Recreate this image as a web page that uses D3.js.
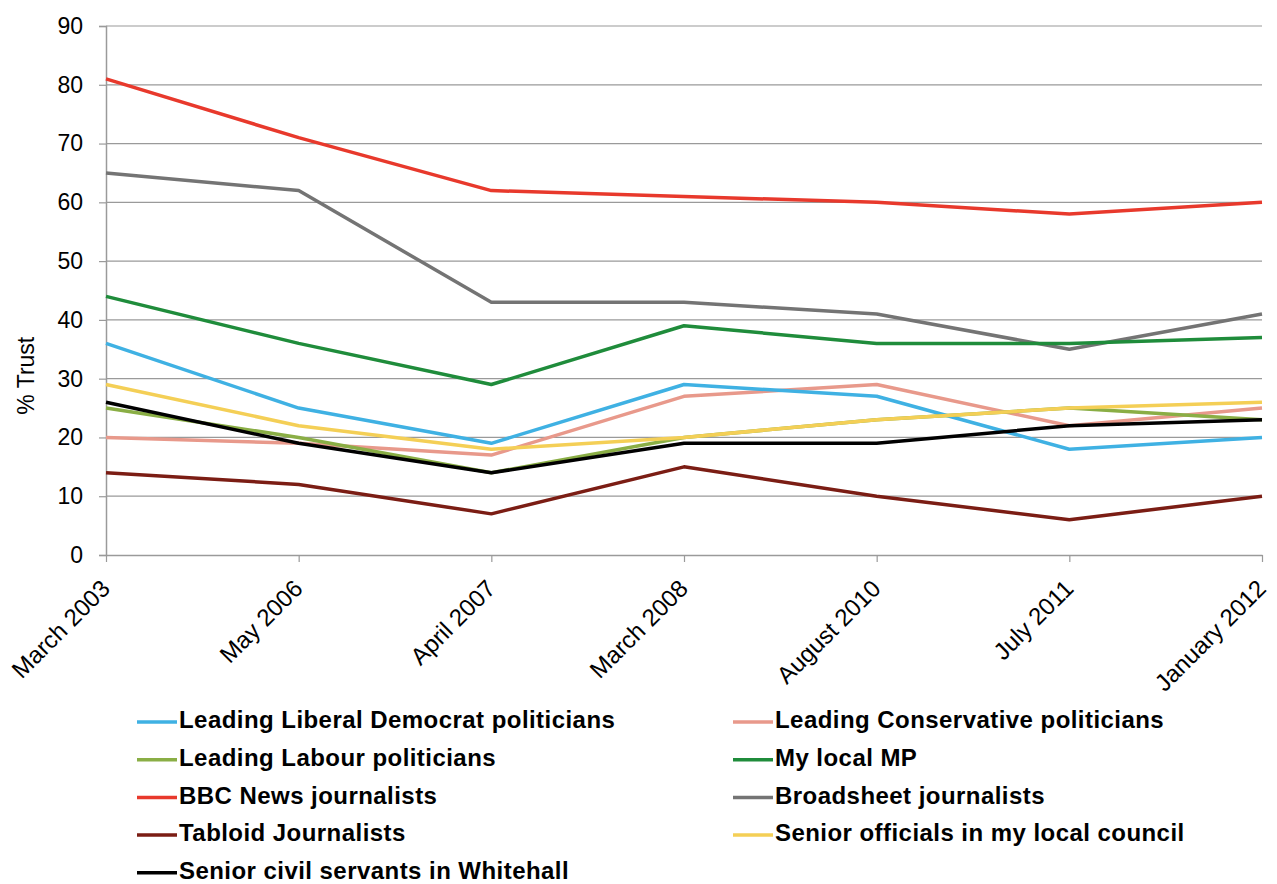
<!DOCTYPE html>
<html>
<head>
<meta charset="utf-8">
<script src="https://cdn.jsdelivr.net/npm/d3@7"></script>
<style>
  body { margin: 0; background: #fff; }
  text { font-family: "Liberation Sans", Arial, sans-serif; fill: #000; }
</style>
</head>
<body>
<div id="chart"></div>
<script>
const dates = ["March 2003", "May 2006", "April 2007", "March 2008", "August 2010", "July 2011", "January 2012"];
const yTicks = [0, 10, 20, 30, 40, 50, 60, 70, 80, 90];

const libDem = [36, 25, 19, 29, 27, 18, 20];
const conservative = [20, 19, 17, 27, 29, 22, 25];
const labour = [25, 20, 14, 20, 23, 25, 23];
const localMP = [44, 36, 29, 39, 36, 36, 37];
const bbc = [81, 71, 62, 61, 60, 58, 60];
const broadsheet = [65, 62, 43, 43, 41, 35, 41];
const tabloid = [14, 12, 7, 15, 10, 6, 10];
const localCouncil = [29, 22, 18, 20, 23, 25, 26];
const civilServants = [26, 19, 14, 19, 19, 22, 23];

const series = [
  { name: "Leading Liberal Democrat politicians", values: libDem, color: "#3fb1e3" },
  { name: "Leading Conservative politicians", values: conservative, color: "#e8998b" },
  { name: "Leading Labour politicians", values: labour, color: "#8aae45" },
  { name: "My local MP", values: localMP, color: "#1f8c3b" },
  { name: "BBC News journalists", values: bbc, color: "#e8392c" },
  { name: "Broadsheet journalists", values: broadsheet, color: "#747474" },
  { name: "Tabloid Journalists", values: tabloid, color: "#7b1d14" },
  { name: "Senior officials in my local council", values: localCouncil, color: "#f4cf56" },
  { name: "Senior civil servants in Whitehall", values: civilServants, color: "#000000" }
];

// draw order: back to front roughly as in the original
const drawOrder = [6, 5, 4, 3, 1, 0, 2, 7, 8];

let width = 1277, height = 884,
    margin = ({ top: 26, right: 15, bottom: 329, left: 106 });

const svg = d3.select("#chart")
  .append("svg")
  .attr("width", width)
  .attr("height", height);

let x = d3.scalePoint()
  .domain(dates)
  .range([margin.left, width - margin.right]);

let y = d3.scaleLinear()
  .domain([0, 90])
  .range([height - margin.bottom, margin.top]);

// gridlines
svg.append("g")
  .selectAll("line")
  .data(yTicks.filter(d => d > 0))
  .join("line")
  .attr("x1", margin.left)
  .attr("x2", width - margin.right)
  .attr("y1", d => y(d))
  .attr("y2", d => y(d))
  .attr("stroke", "#9a9a9a")
  .attr("stroke-width", 1.2);

// y axis
let yAxis = svg.append("g")
  .attr("transform", `translate(${margin.left},0)`)
  .call(d3.axisLeft(y).tickValues(yTicks).tickSize(7).tickPadding(16));
yAxis.select(".domain").attr("stroke", "#9a9a9a").attr("stroke-width", 1.5);
yAxis.selectAll(".tick line").attr("stroke", "#9a9a9a").attr("stroke-width", 1.2);
yAxis.selectAll(".tick text")
  .attr("font-size", 23)
  .attr("font-family", "Liberation Sans, Arial, sans-serif")
  .attr("fill", "#000");

// x axis
let xAxis = svg.append("g")
  .attr("transform", `translate(0,${height - margin.bottom})`)
  .call(d3.axisBottom(x).tickSize(7).tickSizeOuter(0));
xAxis.select(".domain").attr("stroke", "#9a9a9a").attr("stroke-width", 1.5);
xAxis.selectAll(".tick line").attr("stroke", "#9a9a9a").attr("stroke-width", 1.2);
xAxis.selectAll(".tick text")
  .attr("font-size", 24)
  .attr("font-family", "Liberation Sans, Arial, sans-serif")
  .attr("fill", "#000")
  .attr("text-anchor", "end")
  .attr("dy", null)
  .attr("y", 0)
  .attr("x", 0)
  .attr("transform", "translate(5,35) rotate(-45)");

// y axis title
svg.append("text")
  .attr("transform", `translate(34,${y(30.5)}) rotate(-90)`)
  .attr("text-anchor", "middle")
  .attr("font-size", 23)
  .text("% Trust");

let line = d3.line()
  .x((d, i) => x(dates[i]))
  .y(d => y(d));

for (let idx of drawOrder) {
  let s = series[idx];
  svg.append("path")
    .datum(s.values)
    .attr("fill", "none")
    .attr("stroke", s.color)
    .attr("stroke-width", 3.5)
    .attr("stroke-linejoin", "round")
    .attr("d", line);
}

// legend
const legend = svg.append("g");
series.forEach((s, i) => {
  let col = i % 2, row = Math.floor(i / 2);
  let lx = col === 0 ? 137 : 733;
  let ly = 722 + row * 37.7;
  let g = legend.append("g").attr("transform", `translate(${lx},${ly})`);
  g.append("line")
    .attr("x1", 0).attr("x2", 40)
    .attr("y1", 0).attr("y2", 0)
    .attr("stroke", s.color)
    .attr("stroke-width", 3.5);
  g.append("text")
    .attr("x", 42)
    .attr("y", 0)
    .attr("dominant-baseline", "middle")
    .attr("font-size", 24)
    .attr("font-weight", "bold")
    .attr("letter-spacing", 0.45)
    .text(s.name);
});
</script>
</body>
</html>
